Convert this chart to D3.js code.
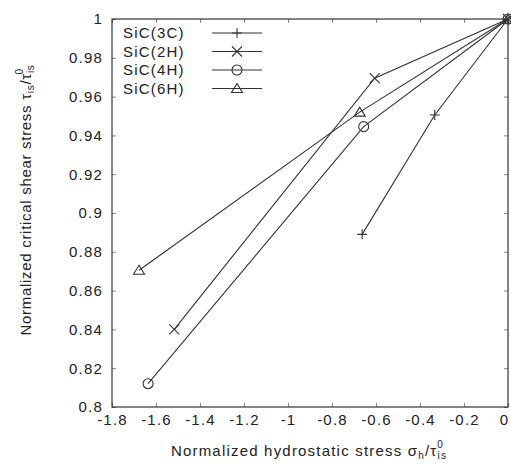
<!DOCTYPE html>
<html>
<head>
<meta charset="utf-8">
<script src="https://cdn.jsdelivr.net/npm/d3@7"></script>
<style>
  body { margin: 0; background: #fff; }
  text { font-family: "Liberation Sans", Arial, sans-serif; fill: #222; letter-spacing: 1.2px; }
</style>
</head>
<body>
<div id="chart"></div>
<script>
// data
var seriesNames = ['SiC(3C)', 'SiC(2H)', 'SiC(4H)', 'SiC(6H)'];
var markers = ['plus', 'cross', 'circle', 'triangle'];
var sic3C = [[0, 1], [-0.333, 0.9505], [-0.663, 0.889]];
var sic2H = [[0, 1], [-0.606, 0.9695], [-1.517, 0.840]];
var sic4H = [[0, 1], [-0.656, 0.9445], [-1.636, 0.812]];
var sic6H = [[0, 1], [-0.674, 0.952], [-1.677, 0.8705]];
var allSeries = [sic3C, sic2H, sic4H, sic6H];
var xTicks = [-1.8, -1.6, -1.4, -1.2, -1, -0.8, -0.6, -0.4, -0.2, 0];
var yTicks = [0.8, 0.82, 0.84, 0.86, 0.88, 0.9, 0.92, 0.94, 0.96, 0.98, 1];

var W = 511, H = 464;
var margin = {top: 19, right: 3, bottom: 57, left: 112};
var width = W - margin.left - margin.right,
    height = H - margin.top - margin.bottom;

var svg = d3.select('#chart').append('svg')
    .attr('width', W)
    .attr('height', H);

var main = svg.append('g')
    .attr('transform', 'translate(' + margin.left + ',' + margin.top + ')');

var x = d3.scaleLinear().domain([-1.8, 0]).range([0, width]);
var y = d3.scaleLinear().domain([0.8, 1]).range([height, 0]);

var ink = '#333';

// plain hyphen for negatives, like the original
function fmt(d) { return String(+d.toFixed(2)); }

main.append('g')
    .attr('transform', 'translate(0,' + height + ')')
    .call(d3.axisBottom(x).tickValues(xTicks).tickSize(-4).tickPadding(7).tickFormat(fmt))
    .call(function (g) {
        g.select('.domain').remove();
        g.selectAll('line').attr('stroke', '#888');
        g.selectAll('text').style('font-size', '15px').attr('fill', '#222');
        // keep the last label inside the page
        g.selectAll('text').filter(function (d) { return d === 0; }).attr('dx', -4);
    });

main.append('g')
    .call(d3.axisLeft(y).tickValues(yTicks).tickSize(-4).tickPadding(9).tickFormat(fmt))
    .call(function (g) {
        g.select('.domain').remove();
        g.selectAll('line').attr('stroke', '#888');
        g.selectAll('text').style('font-size', '15px').attr('fill', '#222');
    });

main.append('g')
    .call(d3.axisTop(x).tickValues(xTicks).tickSize(-4).tickFormat(''))
    .call(function (g) {
        g.select('.domain').remove();
        g.selectAll('line').attr('stroke', '#888');
    });

main.append('g')
    .attr('transform', 'translate(' + width + ',0)')
    .call(d3.axisRight(y).tickValues(yTicks).tickSize(-4).tickFormat(''))
    .call(function (g) {
        g.select('.domain').remove();
        g.selectAll('line').attr('stroke', '#888');
    });

// frame
main.append('rect')
    .attr('width', width)
    .attr('height', height)
    .attr('fill', 'none')
    .attr('stroke', ink)
    .attr('stroke-width', 1.2);

// markers
function drawMarker(g, type, cx, cy) {
    var s = 5;
    if (type === 'plus') {
        g.append('path').attr('d', 'M' + (cx - s) + ',' + cy + 'H' + (cx + s) + 'M' + cx + ',' + (cy - s) + 'V' + (cy + s));
    } else if (type === 'cross') {
        g.append('path').attr('d', 'M' + (cx - s) + ',' + (cy - s) + 'L' + (cx + s) + ',' + (cy + s) +
            'M' + (cx - s) + ',' + (cy + s) + 'L' + (cx + s) + ',' + (cy - s));
    } else if (type === 'circle') {
        g.append('circle').attr('cx', cx).attr('cy', cy).attr('r', 5);
    } else if (type === 'triangle') {
        g.append('path').attr('d', 'M' + cx + ',' + (cy - 5) + 'L' + (cx + 5.5) + ',' + (cy + 4) + 'L' + (cx - 5.5) + ',' + (cy + 4) + 'Z');
    }
}

var line = d3.line()
    .x(function (d) { return x(d[0]); })
    .y(function (d) { return y(d[1]); });

allSeries.forEach(function (data, i) {
    var g = main.append('g')
        .attr('fill', 'none')
        .attr('stroke', ink)
        .attr('stroke-width', 1.1);
    g.append('path').attr('d', line(data));
    data.forEach(function (d) {
        drawMarker(g, markers[i], x(d[0]), y(d[1]));
    });
});

// legend
var legend = main.append('g');
seriesNames.forEach(function (name, i) {
    var ly = 14 + i * 18.5;
    legend.append('text')
        .attr('x', 11)
        .attr('y', ly + 5)
        .style('font-size', '15px')
        .text(name);
    var g = legend.append('g').attr('fill', 'none').attr('stroke', ink).attr('stroke-width', 1.1);
    g.append('line').attr('x1', 100).attr('x2', 150).attr('y1', ly).attr('y2', ly);
    drawMarker(g, markers[i], 125, ly);
});

// axis titles
var xt = svg.append('text')
    .attr('x', 309)
    .attr('y', 456)
    .attr('text-anchor', 'middle')
    .style('font-size', '15px');
xt.append('tspan').text('Normalized hydrostatic stress \u03c3');
xt.append('tspan').attr('dy', 3).style('font-size', '10px').text('h');
xt.append('tspan').attr('dy', -3).text('/\u03c4');
xt.append('tspan').attr('dy', 3).style('font-size', '10px').text('is');
xt.append('tspan').attr('dx', -10).attr('dy', -11).style('font-size', '10px').text('0');

var yt = svg.append('text')
    .attr('transform', 'translate(31,200) rotate(-90)')
    .attr('text-anchor', 'middle')
    .style('font-size', '15px')
    .style('letter-spacing', '0.7px');
yt.append('tspan').text('Normalized critical shear stress \u03c4');
yt.append('tspan').attr('dy', 3).style('font-size', '10px').text('is');
yt.append('tspan').attr('dy', -3).text('/\u03c4');
yt.append('tspan').attr('dy', 3).style('font-size', '10px').text('is');
yt.append('tspan').attr('dx', -10).attr('dy', -11).style('font-size', '10px').text('0');
</script>
</body>
</html>
